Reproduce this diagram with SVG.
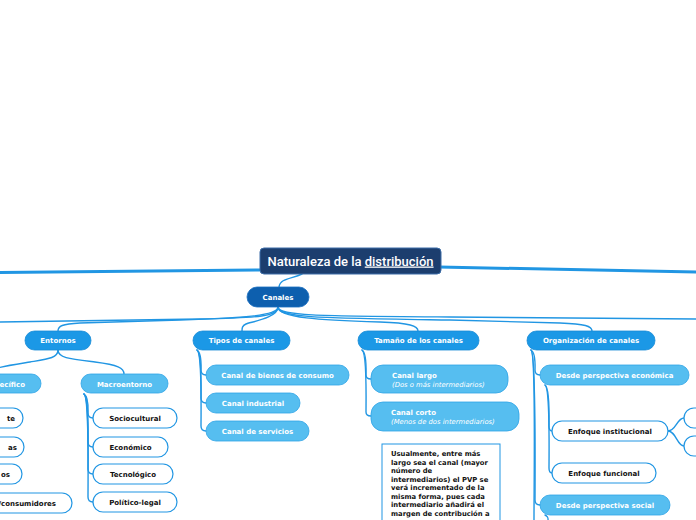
<svg xmlns="http://www.w3.org/2000/svg" width="696" height="520" viewBox="0 0 696 520">
<style>
.c{fill:none;stroke:#2196e3;stroke-width:1.4;stroke-linecap:round}
.m{fill:none;stroke:#2196e3;stroke-width:3;stroke-linecap:round}
.l2{fill:#1b98e6;stroke:#168ad6;stroke-width:0.8}
.l3{fill:#56bef0;stroke:#2fa3e6;stroke-width:0.8}
.w{fill:#ffffff;stroke:#2196e3;stroke-width:1.2}
.t{font-family:"DejaVu Sans",Verdana,sans-serif;font-weight:bold;font-size:7px;text-anchor:middle}
.tw{fill:#ffffff}
.tb{fill:#111111}
.it{font-family:"DejaVu Sans",Verdana,sans-serif;font-style:italic;font-size:6.8px;fill:#ffffff}
.n{font-family:"DejaVu Sans",Verdana,sans-serif;font-weight:bold;font-size:6.8px;fill:#111111}
</style>
<rect width="696" height="520" fill="#ffffff"/>
<g id="connectors">
<path class="m" d="M262,270 L0,272.5"/>
<path class="m" d="M439,267 L696,272"/>
<path class="c" d="M302,274 C292,279 280,278 279,287"/>
<path class="c" d="M278,307 C278,316 260,318 200,319 L0,322"/>
<path class="c" d="M278,307 C278,316 240,318 180,320 L80,323 C62,324 58,326 58,331"/>
<path class="c" d="M278,307 C278,318 250,322 246,324 C242,326 242,328 242,331"/>
<path class="c" d="M278,307 C278,318 320,320 380,322 C410,323 418,326 418,331"/>
<path class="c" d="M278,307 C278,318 320,318 450,320 L560,323 C585,324 592,326 592,331"/>
<path class="c" d="M278,307 C278,316 320,316 450,317 L696,319"/>
<path class="c" d="M58,350 C58,358 48,359 30,362 C5,366 -10,368 -12,374"/>
<path class="c" d="M58,350 C58,358 70,359 95,362 C118,365 124,368 124,374"/>
<path class="c" d="M84,394 C89,397 88,410 88,413 C88,417 90,418 93,418"/>
<path class="c" d="M84,394 C89,397 88,439 88,442 C88,446 90,447 93,447"/>
<path class="c" d="M84,394 C89,397 88,466 88,469 C88,473 90,474 93,474"/>
<path class="c" d="M84,394 C89,397 88,494 88,497 C88,501 90,502 93,502"/>
<path class="c" d="M197,350 C202,353 201,367 201,370 C201,374 203,375 206,375"/>
<path class="c" d="M197,350 C202,353 201,395 201,398 C201,402 203,403 206,403"/>
<path class="c" d="M197,350 C202,353 201,423 201,426 C201,430 203,431 206,431"/>
<path class="c" d="M362,350 C367,353 366,372 366,375 C366,378 368,379 371,379"/>
<path class="c" d="M362,350 C367,353 366,409 366,412 C366,415 368,416 371,416"/>
<path class="c" d="M531,350 C536,353 535,367 535,370 C535,374 537,375 540,375"/>
<path class="c" d="M531,350 C536,353 535,497 535,500 C535,504 537,505 540,505"/>
<path class="c" d="M531,350 C536,353 534,480 534,520"/>
<path class="c" d="M545,385 C550,388 549,423 549,426 C549,430 550,431 552,431"/>
<path class="c" d="M545,385 C550,388 549,465 549,468 C549,472 550,473 552,473"/>
<path class="c" d="M545,515 C549,517 548,519 548,522"/>
<path class="c" d="M668,431 C676,431 677,418 684,418"/>
<path class="c" d="M668,431 C676,431 677,446 684,446"/>
</g>
<g id="title">
<rect x="260" y="248" width="181" height="26" rx="4" fill="#1c3e6e" stroke="#3c6da8" stroke-width="1"/>
<text x="350.5" y="265.5" font-family="Roboto,'Liberation Sans',sans-serif" font-size="13" font-weight="500" fill="#ffffff" text-anchor="middle">Naturaleza de la <tspan text-decoration="underline">distribución</tspan></text>
</g>
<g id="canales">
<rect x="247" y="287" width="62" height="20" rx="10" fill="#0d5fae" stroke="#1a6fc0" stroke-width="0.8"/>
<text class="t tw" x="278" y="299.5">Canales</text>
</g>
<g id="entornos">
<rect class="l2" x="25" y="331" width="66" height="19" rx="9.5"/>
<text class="t tw" x="58" y="343">Entornos</text>
</g>
<g id="tipos">
<rect class="l2" x="193" y="331" width="97" height="19" rx="9.5"/>
<text class="t tw" x="241.5" y="343">Tipos de canales</text>
</g>
<g id="tamano">
<rect class="l2" x="358" y="331" width="121" height="19" rx="9.5"/>
<text class="t tw" x="418.5" y="343">Tamaño de los canales</text>
</g>
<g id="organizacion">
<rect class="l2" x="527" y="331" width="128" height="19" rx="9.5"/>
<text class="t tw" x="591" y="343">Organización de canales</text>
</g>
<g id="especifico">
<rect class="l3" x="-60" y="374" width="101" height="19" rx="9.5"/>
<text class="t tw" x="25" y="386.5" style="text-anchor:end">ecífico</text>
</g>
<g id="macroentorno">
<rect class="l3" x="81" y="374" width="87" height="19" rx="9.5"/>
<text class="t tw" x="124.5" y="386.5">Macroentorno</text>
</g>
<g id="esp1">
<rect class="w" x="-60" y="408" width="83" height="20" rx="10"/>
<text class="t tb" x="15" y="420.5" style="text-anchor:end">te</text>
</g>
<g id="esp2">
<rect class="w" x="-60" y="437" width="84" height="20" rx="10"/>
<text class="t tb" x="17" y="449.5" style="text-anchor:end">as</text>
</g>
<g id="esp3">
<rect class="w" x="-60" y="464" width="82" height="20" rx="10"/>
<text class="t tb" x="10" y="476.5" style="text-anchor:end">os</text>
</g>
<g id="esp4">
<rect class="w" x="-60" y="493" width="132" height="20" rx="10"/>
<text class="t tb" x="56" y="505.5" style="text-anchor:end">/consumidores</text>
</g>
<g id="sociocultural">
<rect class="w" x="93" y="408" width="84" height="20" rx="10"/>
<text class="t tb" x="135" y="420.5">Sociocultural</text>
</g>
<g id="economico">
<rect class="w" x="93" y="437" width="75" height="20" rx="10"/>
<text class="t tb" x="130.5" y="449.5">Económico</text>
</g>
<g id="tecnologico">
<rect class="w" x="93" y="464" width="80" height="20" rx="10"/>
<text class="t tb" x="133" y="476.5">Tecnológico</text>
</g>
<g id="politico">
<rect class="w" x="93" y="492" width="84" height="20" rx="10"/>
<text class="t tb" x="135" y="504.5">Político-legal</text>
</g>
<g id="bienes">
<rect class="l3" x="206" y="365" width="143" height="20" rx="10"/>
<text class="t tw" x="277.5" y="377.5">Canal de bienes de consumo</text>
</g>
<g id="industrial">
<rect class="l3" x="206" y="393" width="94" height="20" rx="10"/>
<text class="t tw" x="253" y="405.5">Canal industrial</text>
</g>
<g id="servicios">
<rect class="l3" x="206" y="421" width="103" height="20" rx="10"/>
<text class="t tw" x="257.5" y="433.5">Canal de servicios</text>
</g>
<g id="largo">
<rect class="l3" x="371" y="365" width="137" height="28" rx="12"/>
<text class="t tw" x="392" y="378" style="text-anchor:start">Canal largo</text>
<text class="it" x="392" y="387">(Dos o más intermediarios)</text>
</g>
<g id="corto">
<rect class="l3" x="371" y="402" width="148" height="29" rx="12"/>
<text class="t tw" x="391" y="415" style="text-anchor:start">Canal corto</text>
<text class="it" x="391" y="424">(Menos de dos intermediarios)</text>
</g>
<g id="nota">
<rect x="382" y="444" width="118" height="90" fill="#ffffff" stroke="#2196e3" stroke-width="1"/>
<text class="n" x="391" y="456">Usualmente, entre más</text>
<text class="n" x="391" y="464.5">largo sea el canal (mayor</text>
<text class="n" x="391" y="473">número de</text>
<text class="n" x="391" y="481.5">intermediarios) el PVP se</text>
<text class="n" x="391" y="490">verá incrementado de la</text>
<text class="n" x="391" y="498.5">misma forma, pues cada</text>
<text class="n" x="391" y="507">intermediario añadirá el</text>
<text class="n" x="391" y="515.5">margen de contribución a</text>
</g>
<g id="economica">
<rect class="l3" x="540" y="365" width="149" height="20" rx="10"/>
<text class="t tw" x="614.5" y="377.5">Desde perspectiva económica</text>
</g>
<g id="institucional">
<rect class="w" x="552" y="421" width="116" height="20" rx="10"/>
<text class="t tb" x="610" y="433.5">Enfoque institucional</text>
</g>
<g id="funcional">
<rect class="w" x="552" y="463" width="104" height="20" rx="10"/>
<text class="t tb" x="604" y="475.5">Enfoque funcional</text>
</g>
<g id="social">
<rect class="l3" x="540" y="495" width="130" height="20" rx="10"/>
<text class="t tw" x="605" y="507.5">Desde perspectiva social</text>
</g>
<g id="inst1">
<rect class="w" x="684" y="408" width="60" height="20" rx="10"/>
</g>
<g id="inst2">
<rect class="w" x="684" y="436" width="60" height="20" rx="10"/>
</g>
</svg>
